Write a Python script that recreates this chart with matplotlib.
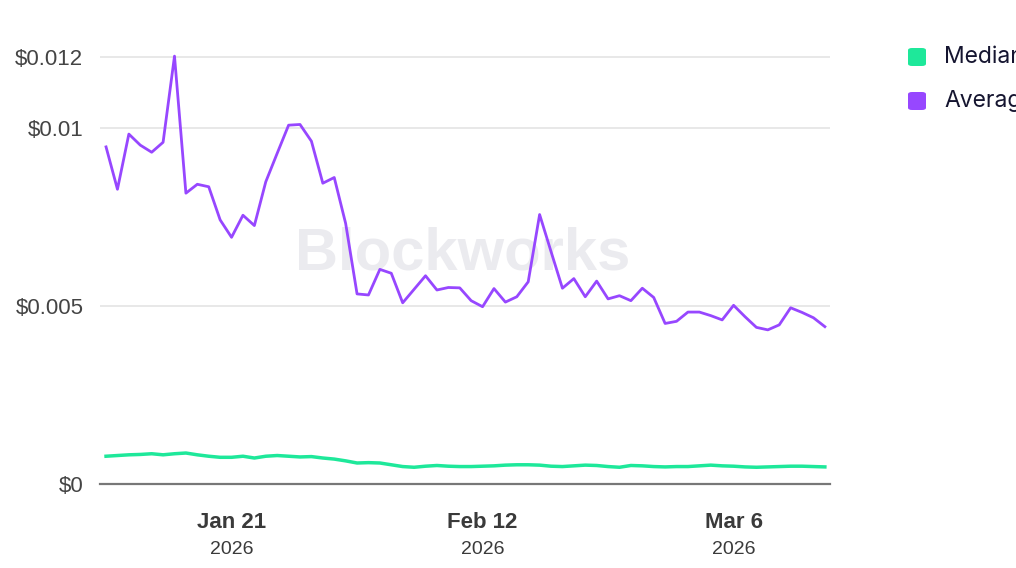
import numpy as np
import pandas as pd
import matplotlib
matplotlib.use("Agg")
import matplotlib.pyplot as plt
import matplotlib.patches as mpatches

# ── Data ─────────────────────────────────────
dates = pd.date_range("2026-01-10", periods=64, freq="D")

median_fee = [
    0.78, 0.80, 0.82, 0.83, 0.85, 0.82, 0.85, 0.87, 0.82, 0.78,
    0.75, 0.75, 0.78, 0.73, 0.78, 0.80, 0.78, 0.76, 0.77, 0.73,
    0.70, 0.65, 0.59, 0.60, 0.59, 0.54, 0.49, 0.47, 0.50, 0.52,
    0.50, 0.49, 0.49, 0.50, 0.51, 0.53, 0.54, 0.54, 0.53, 0.50,
    0.49, 0.51, 0.53, 0.52, 0.49, 0.47, 0.52, 0.51, 0.49, 0.48,
    0.49, 0.49, 0.51, 0.53, 0.51, 0.50, 0.48, 0.47, 0.48, 0.49,
    0.50, 0.50, 0.49, 0.48,
]
average_fee = [
    9.47, 8.28, 9.83, 9.52, 9.32, 9.60, 12.02, 8.17, 8.42, 8.35,
    7.42, 6.93, 7.55, 7.26, 8.49, 9.29, 10.08, 10.10, 9.63, 8.45,
    8.61, 7.32, 5.34, 5.31, 6.03, 5.92, 5.09, 5.47, 5.85, 5.45,
    5.52, 5.51, 5.15, 4.98, 5.49, 5.11, 5.26, 5.68, 7.57, 6.53,
    5.50, 5.77, 5.26, 5.70, 5.20, 5.29, 5.15, 5.50, 5.24, 4.51,
    4.57, 4.83, 4.83, 4.73, 4.61, 5.02, 4.70, 4.40, 4.33, 4.47,
    4.95, 4.82, 4.67, 4.42,
]
# values above are in thousandths of a dollar
median_fee = np.array(median_fee) / 1000
average_fee = np.array(average_fee) / 1000

y_ticks = [0, 0.005, 0.01, 0.012]
y_labels = ["$0", "$0.005", "$0.01", "$0.012"]
x_ticks = ["2026-01-21", "2026-02-12", "2026-03-06"]
x_labels = ["Jan 21", "Feb 12", "Mar 6"]
series_names = ["Median", "Average"]

GREEN = "#1EE89A"
PURPLE = "#9747FF"

plt.rcParams["font.family"] = ["Liberation Sans", "DejaVu Sans"]

fig = plt.figure(figsize=(10.16, 5.68), dpi=100)
ax = fig.add_axes([100 / 1016, 1 - 484 / 568, 730 / 1016, 441.4 / 568])

ax.plot(dates, average_fee, color=PURPLE, lw=2.0, zorder=3)
ax.plot(dates, median_fee, color=GREEN, lw=2.5, zorder=3)

# watermark
ax.text(0.497, 0.52, "Blockworks", transform=ax.transAxes, ha="center", va="center",
        fontsize=43, fontweight="bold", color="#ebebef", zorder=1)

x0 = dates[0] - pd.Timedelta(hours=12.7)
x1 = dates[0] + pd.Timedelta(days=63.45)
ax.set_xlim(x0, x1)
ax.set_ylim(0, 0.0124)

ax.set_yticks(y_ticks)
ax.set_yticklabels(y_labels, fontsize=16, color="#444444")
ax.tick_params(axis="y", length=0, pad=12)
ax.grid(axis="y", color="#e6e6e6", lw=1.3, zorder=0)
ax.set_axisbelow(True)

ax.set_xticks([pd.Timestamp(d) for d in x_ticks])
ax.set_xticklabels([])
ax.tick_params(axis="x", length=0)
for d, lab in zip(x_ticks, x_labels):
    ax.annotate(lab, xy=(pd.Timestamp(d), 0), xycoords=("data", "axes fraction"),
                xytext=(0, -39), textcoords="offset pixels", ha="center", va="center",
                fontsize=16, fontweight="bold", color="#3a3a3a", annotation_clip=False)
    ax.annotate("2026", xy=(pd.Timestamp(d), 0), xycoords=("data", "axes fraction"),
                xytext=(0, -65), textcoords="offset pixels", ha="center", va="center",
                fontsize=14, color="#3a3a3a", annotation_clip=False)

for side in ["top", "right", "left"]:
    ax.spines[side].set_visible(False)
ax.spines["bottom"].set_color("#777777")
ax.spines["bottom"].set_linewidth(1.6)
ax.spines["bottom"].set_zorder(4)

# legend (drawn by hand, text runs off the right edge like the source)
for i, (name, col) in enumerate(zip(series_names, [GREEN, PURPLE])):
    yc = 1 - (57 + 44 * i) / 568
    box = mpatches.FancyBboxPatch(
        (908 / 1016, yc - 9 / 568), 18 / 1016, 18 / 568,
        boxstyle="round,pad=0,rounding_size=0.004", transform=fig.transFigure,
        facecolor=col, edgecolor="none")
    fig.patches.append(box)
    fig.text(944 / 1016, yc, name, ha="left", va="center", fontsize=16.5,
             color="#151530", family=["Inter", "DejaVu Sans"])

fig.savefig("out.png", dpi=100)
